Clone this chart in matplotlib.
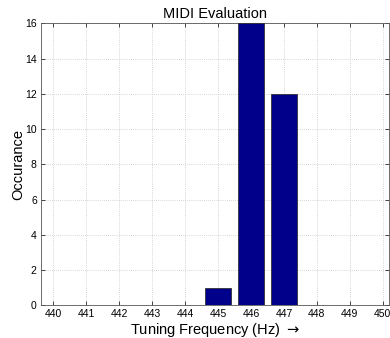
import numpy as np
import matplotlib.pyplot as plt

plt.rcParams['font.family'] = ['Liberation Sans', 'DejaVu Sans']

# Histogram of tuning frequencies
freqs = [440, 441, 442, 443, 444, 445, 446, 447, 448, 449, 450]
counts = [0, 0, 0, 0, 0, 1, 16, 12, 0, 0, 0]

fig = plt.figure(figsize=(3.9, 3.38), dpi=100)
ax = fig.add_axes([0.105, 0.097, 0.893, 0.834])

ax.bar(freqs, counts, width=0.8, color='#00008b', edgecolor='#333333', linewidth=0.6, zorder=3)

ax.set_xlim(439.62, 450.2)
ax.set_ylim(0, 16)
ax.set_xticks(freqs)
ax.set_yticks(range(0, 17, 2))
ax.tick_params(direction='in', top=True, right=True, labelsize=7.5, length=3, width=0.5, pad=3)
ax.grid(True, linestyle=(0, (1, 1.5)), color='#c8c8c8', linewidth=0.6, zorder=0)
for s in ax.spines.values():
    s.set_linewidth(0.6)
    s.set_color('#555555')

ax.set_title("MIDI Evaluation", fontsize=10.5, pad=4)
ax.set_xlabel(r"Tuning Frequency (Hz) $\rightarrow$", fontsize=10.5, labelpad=1)
ax.set_ylabel("Occurance", fontsize=10.5, labelpad=0)

fig.savefig("out.png", dpi=100)
